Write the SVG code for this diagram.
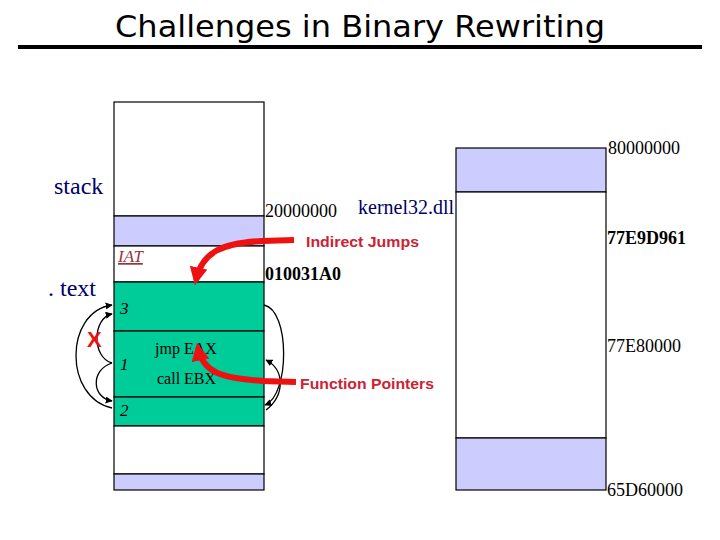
<svg xmlns="http://www.w3.org/2000/svg" width="720" height="540" viewBox="0 0 720 540">
<style>
.box{stroke:#000;stroke-width:1.2}
.w{fill:#fff}.lav{fill:#ccccff}.grn{fill:#00cc99}
.addr{font-family:"Liberation Serif",serif;font-size:18px;fill:#000}
.b{font-weight:bold}
.lbl{font-family:"Liberation Serif",serif;font-size:24px;fill:#000066}
.red{font-family:"Liberation Sans",Arial,sans-serif;font-weight:bold;font-size:15px;fill:#cc2233}
.num{font-family:"Liberation Serif",serif;font-style:italic;font-size:17px;fill:#000}
.code{font-family:"Liberation Serif",serif;font-size:16px;fill:#000}
.thin{fill:none;stroke:#000;stroke-width:1.3}
.thick{fill:none;stroke:#ee1111;stroke-width:6}
</style>
<defs>
<marker id="ah" viewBox="0 0 10 10" refX="9" refY="5" markerWidth="7" markerHeight="7" orient="auto" markerUnits="userSpaceOnUse">
<path d="M0,0 L10,5 L0,10 z" fill="#000"/>
</marker>
<marker id="rh" viewBox="0 0 10 10" refX="7" refY="5" markerWidth="3" markerHeight="3" orient="auto">
<path d="M0,0 L10,5 L0,10 z" fill="#ee1111"/>
</marker>
</defs>
<rect width="720" height="540" fill="#fff"/>
<g id="title">
<text x="360" y="37" text-anchor="middle" font-family="DejaVu Sans,sans-serif" font-size="30" textLength="490" lengthAdjust="spacingAndGlyphs">Challenges in Binary Rewriting</text>
<rect x="18" y="45" width="684" height="4" fill="#000"/>
</g>
<g id="process-memory">
<rect class="box w" x="114" y="102" width="150" height="114"/>
<rect class="box lav" x="114" y="216" width="150" height="30"/>
<rect class="box w" x="114" y="246" width="150" height="36"/>
<rect class="box grn" x="114" y="282" width="150" height="49"/>
<rect class="box grn" x="114" y="331" width="150" height="66"/>
<rect class="box grn" x="114" y="397" width="150" height="29"/>
<rect class="box w" x="114" y="426" width="150" height="48"/>
<rect class="box lav" x="114" y="474" width="150" height="16"/>
</g>
<g id="dll-memory">
<rect class="box lav" x="456" y="148" width="150" height="44"/>
<rect class="box w" x="456" y="192" width="150" height="246"/>
<rect class="box lav" x="456" y="438" width="150" height="52"/>
</g>
<g id="labels">
<text class="lbl" x="54" y="194">stack</text>
<text class="lbl" x="48" y="296">. text</text>
<text class="lbl" x="358" y="214" style="font-size:20px">kernel32.dll</text>
<text class="addr" x="265" y="217">20000000</text>
<text class="addr b" x="265" y="280">010031A0</text>
<text class="addr" x="608" y="154">80000000</text>
<text class="addr b" x="607" y="244">77E9D961</text>
<text class="addr" x="607" y="352">77E80000</text>
<text class="addr" x="607" y="496">65D60000</text>
<text x="118" y="262" font-family="Liberation Serif,serif" font-style="italic" font-size="17" fill="#993333" text-decoration="underline">IAT</text>
<text class="num" x="120" y="314">3</text>
<text class="num" x="120" y="370">1</text>
<text class="num" x="120" y="416">2</text>
<text class="code" x="155" y="354">jmp EAX</text>
<text class="code" x="157" y="384">call EBX</text>
<text class="red" x="306" y="247" textLength="113" lengthAdjust="spacingAndGlyphs">Indirect Jumps</text>
<text class="red" x="300" y="389" textLength="134" lengthAdjust="spacingAndGlyphs">Function Pointers</text>
</g>
<g id="connectors">
<path class="thin" d="M112,363 C92,358 92,318 112,314" marker-end="url(#ah)"/>
<path class="thin" d="M112,408 C64,398 64,312 112,305" marker-end="url(#ah)"/>
<path class="thin" d="M112,363 C90,370 92,398 112,401" marker-end="url(#ah)"/>
<path class="thin" d="M264,305 C290,310 290,395 265,405" marker-end="url(#ah)"/>
<path class="thin" d="M266,410 C285,395 285,370 266,360" marker-end="url(#ah)"/>
<path class="thick" d="M294,240 L262,241 C222,243 202,252 196,280" marker-end="url(#rh)"/>
<path class="thick" d="M296,382 L262,381 C222,378 203,373 198,348" marker-end="url(#rh)"/>
<text x="87" y="347" font-family="Liberation Sans,sans-serif" font-weight="bold" font-size="22" fill="#ee1111">X</text>
</g>
</svg>
